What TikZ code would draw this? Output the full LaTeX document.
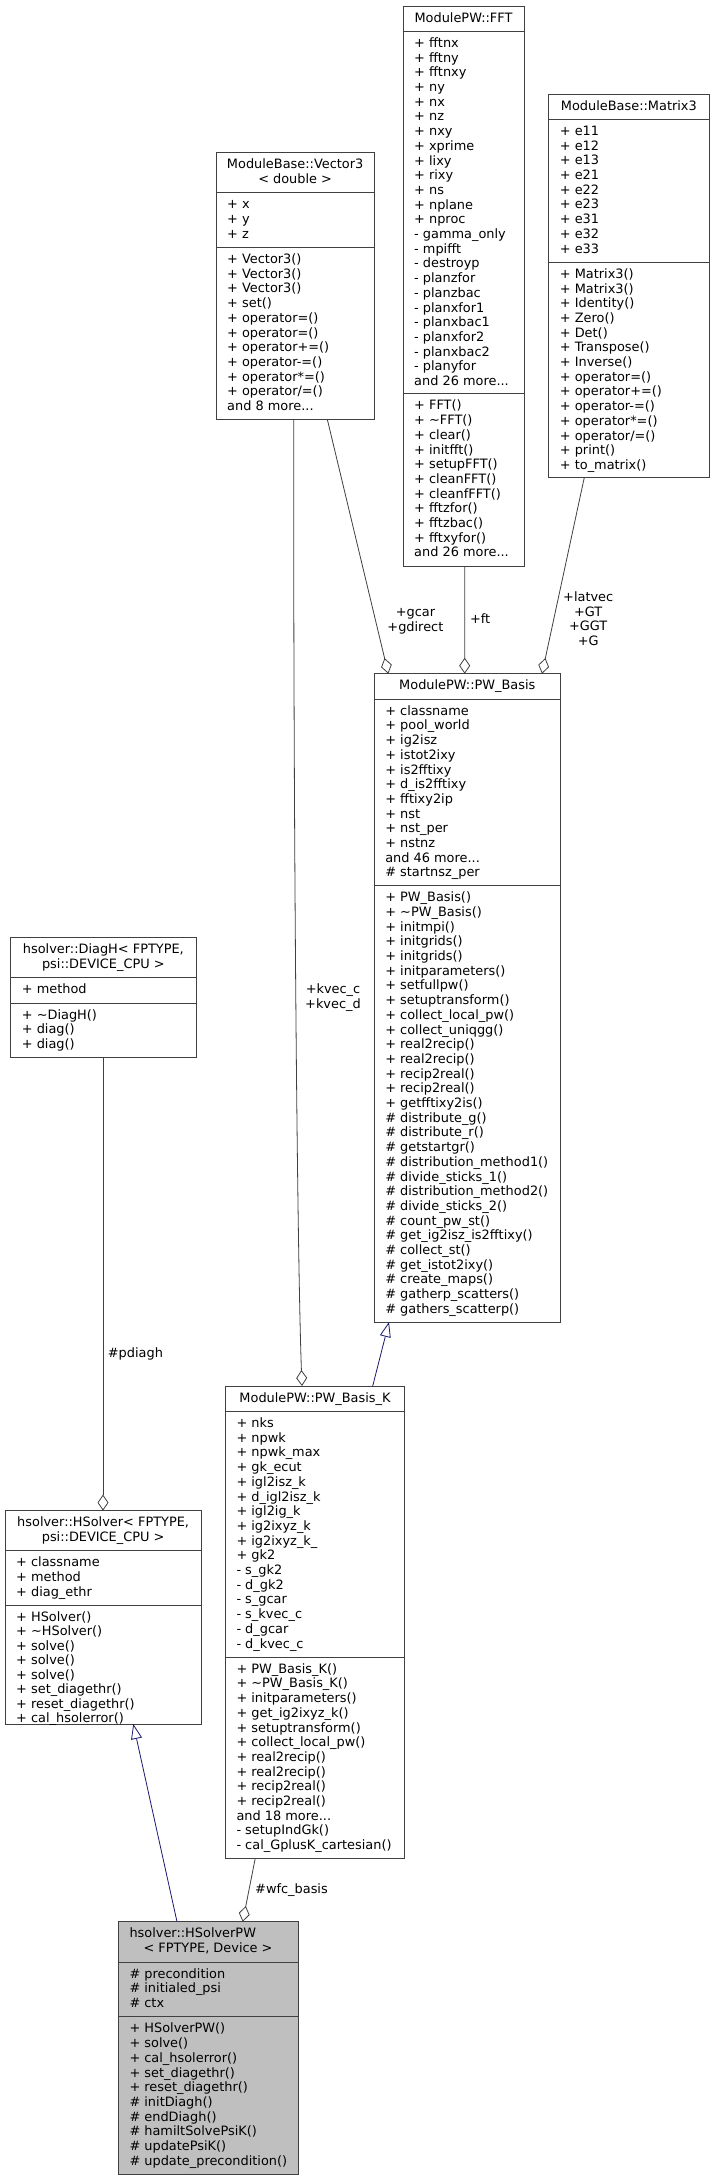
\documentclass[tikz,border=0pt]{standalone}
\usepackage{fontspec}
\setmainfont{DejaVu Sans}
\usetikzlibrary{arrows.meta,fit}
\definecolor{edgegray}{HTML}{404040}
\definecolor{navyedge}{HTML}{191970}
\definecolor{hlfill}{HTML}{BFBFBF}
\newcommand\dfont{\fontsize{12.9}{14.7}\selectfont}
\newcommand\tightfont{\fontsize{12.9}{14.5}\selectfont}
\tikzset{
  clsbox/.style={draw=edgegray, line width=0.9pt, inner sep=0pt, outer sep=0pt},
  sepline/.style={draw=edgegray, line width=0.9pt},
  seclbl/.style={font=\dfont, align=left, inner sep=0pt, anchor=north west, text=black},
  hdrlbl/.style={font=\dfont, align=center, inner sep=0pt, anchor=north, text=black},
  edgelbl/.style={font=\dfont, align=center, inner sep=0pt, anchor=north, text=black},
  agg/.style={draw=edgegray, line width=0.8pt, -{Diamond[open, length=16pt, width=11pt, line width=0.8pt]}},
  inh/.style={draw=navyedge, line width=0.8pt, -{Triangle[open, length=15pt, width=11pt, line width=0.8pt]}}
}
% name, x1, y0, x2, y1, y2, y3, fill
\newcommand\umlbox[8]{%
  \node[clsbox, fill=#8, fit={(#2,#3) (#4,#7)}] (#1) {};
  \draw[sepline] (#2,#5) -- (#4,#5);
  \draw[sepline] (#2,#6) -- (#4,#6);
}
% name, x1, section top, text
\newcommand\seclines[4]{%
  \node[seclbl] (#1) at (#2+11,#3+5.7) {\strut #4};
}
% name, x1, x2, y0, text
\newcommand\hdrlines[5]{%
  \node[hdrlbl] (#1) at ({(#2+#3)/2},#4+5.7) {\strut #5};
}
\begin{document}
\begin{tikzpicture}[x=1pt, y=-1pt]
\useasboundingbox (0,0) rectangle (714,2180);
\fill[white] (0,0) rectangle (714,2180);

% ---------- ModulePW::FFT
\umlbox{fft}{403}{6}{524}{31.3}{393.7}{566}{white}
\hdrlines{fft-h}{403}{524}{6}{ModulePW::FFT}
\seclines{fft-a}{403}{31.3}{+ fftnx\\+ fftny\\+ fftnxy\\+ ny\\+ nx\\+ nz\\+ nxy\\+ xprime\\+ lixy\\+ rixy\\+ ns\\+ nplane\\+ nproc\\- gamma\_only\\- mpifft\\- destroyp\\- planzfor\\- planzbac\\- planxfor1\\- planxbac1\\- planxfor2\\- planxbac2\\- planyfor\\and 26 more...}
\seclines{fft-m}{403}{393.7}{+ FFT()\\+ \textasciitilde FFT()\\+ clear()\\+ initfft()\\+ setupFFT()\\+ cleanFFT()\\+ cleanfFFT()\\+ fftzfor()\\+ fftzbac()\\+ fftxyfor()\\and 26 more...}

% ---------- ModuleBase::Vector3
\umlbox{v3}{216}{152.7}{374.3}{192.7}{247.4}{419.7}{white}
\hdrlines{v3-h}{216}{374.3}{152.7}{ModuleBase::Vector3\\< double >}
\seclines{v3-a}{216}{192.7}{+ x\\+ y\\+ z}
\seclines{v3-m}{216}{247.4}{+ Vector3()\\+ Vector3()\\+ Vector3()\\+ set()\\+ operator=()\\+ operator=()\\+ operator+=()\\+ operator-=()\\+ operator*=()\\+ operator/=()\\and 8 more...}

% ---------- ModuleBase::Matrix3
\umlbox{m3}{548.7}{94}{709}{119.3}{262.2}{477.5}{white}
\hdrlines{m3-h}{548.7}{709}{94}{ModuleBase::Matrix3}
\seclines{m3-a}{548.7}{119.3}{+ e11\\+ e12\\+ e13\\+ e21\\+ e22\\+ e23\\+ e31\\+ e32\\+ e33}
\seclines{m3-m}{548.7}{262.2}{+ Matrix3()\\+ Matrix3()\\+ Identity()\\+ Zero()\\+ Det()\\+ Transpose()\\+ Inverse()\\+ operator=()\\+ operator+=()\\+ operator-=()\\+ operator*=()\\+ operator/=()\\+ print()\\+ to\_matrix()}

% ---------- ModulePW::PW_Basis
\umlbox{pwb}{374.1}{673.7}{560.5}{699}{885.5}{1322}{white}
\hdrlines{pwb-h}{374.1}{560.5}{673.7}{ModulePW::PW\_Basis}
\seclines{pwb-a}{374.1}{699}{+ classname\\+ pool\_world\\+ ig2isz\\+ istot2ixy\\+ is2fftixy\\+ d\_is2fftixy\\+ fftixy2ip\\+ nst\\+ nst\_per\\+ nstnz\\and 46 more...\\\# startnsz\_per}
\seclines{pwb-m}{374.1}{885.5}{+ PW\_Basis()\\+ \textasciitilde PW\_Basis()\\+ initmpi()\\+ initgrids()\\+ initgrids()\\+ initparameters()\\+ setfullpw()\\+ setuptransform()\\+ collect\_local\_pw()\\+ collect\_uniqgg()\\+ real2recip()\\+ real2recip()\\+ recip2real()\\+ recip2real()\\+ getfftixy2is()\\\# distribute\_g()\\\# distribute\_r()\\\# getstartgr()\\\# distribution\_method1()\\\# divide\_sticks\_1()\\\# distribution\_method2()\\\# divide\_sticks\_2()\\\# count\_pw\_st()\\\# get\_ig2isz\_is2fftixy()\\\# collect\_st()\\\# get\_istot2ixy()\\\# create\_maps()\\\# gatherp\_scatters()\\\# gathers\_scatterp()}

% ---------- ModulePW::PW_Basis_K
\umlbox{pwbk}{225.3}{1386}{404.7}{1411.3}{1657}{1858}{white}
\hdrlines{pwbk-h}{225.3}{404.7}{1386}{ModulePW::PW\_Basis\_K}
\seclines{pwbk-a}{225.3}{1411.3}{+ nks\\+ npwk\\+ npwk\_max\\+ gk\_ecut\\+ igl2isz\_k\\+ d\_igl2isz\_k\\+ igl2ig\_k\\+ ig2ixyz\_k\\+ ig2ixyz\_k\_\\+ gk2\\- s\_gk2\\- d\_gk2\\- s\_gcar\\- s\_kvec\_c\\- d\_gcar\\- d\_kvec\_c}
\seclines{pwbk-m}{225.3}{1657}{+ PW\_Basis\_K()\\+ \textasciitilde PW\_Basis\_K()\\+ initparameters()\\+ get\_ig2ixyz\_k()\\+ setuptransform()\\+ collect\_local\_pw()\\+ real2recip()\\+ real2recip()\\+ recip2real()\\+ recip2real()\\and 18 more...\\- setupIndGk()\\- cal\_GplusK\_cartesian()}

% ---------- hsolver::DiagH
\umlbox{diagh}{10.7}{937.7}{196}{977.7}{1003}{1057.7}{white}
\hdrlines{diagh-h}{10.7}{196}{937.7}{hsolver::DiagH< FPTYPE,\\psi::DEVICE\_CPU >}
\seclines{diagh-a}{10.7}{977.7}{+ method}
\seclines{diagh-m}{10.7}{1003}{+ \textasciitilde DiagH()\\+ diag()\\+ diag()}

% ---------- hsolver::HSolver
\umlbox{hs}{5}{1510.6}{201.3}{1550.7}{1605.3}{1724}{white}
\hdrlines{hs-h}{5}{201.3}{1510.6}{hsolver::HSolver< FPTYPE,\\psi::DEVICE\_CPU >}
\seclines{hs-a}{5}{1550.7}{+ classname\\+ method\\+ diag\_ethr}
\node[seclbl, font=\tightfont] (hs-m) at (16,1610.9) {\strut + HSolver()\\+ \textasciitilde HSolver()\\+ solve()\\+ solve()\\+ solve()\\+ set\_diagethr()\\+ reset\_diagethr()\\+ cal\_hsolerror()};

% ---------- hsolver::HSolverPW
\umlbox{hspw}{118.3}{1921.7}{298.7}{1962}{2016.7}{2174.3}{hlfill}
\node[seclbl] (hspw-h) at (129.3,1927.4) {\strut hsolver::HSolverPW\\\hspace*{14pt}< FPTYPE, Device >};
\seclines{hspw-a}{118.3}{1962}{\# precondition\\\# initialed\_psi\\\# ctx}
\seclines{hspw-m}{118.3}{2016.7}{+ HSolverPW()\\+ solve()\\+ cal\_hsolerror()\\+ set\_diagethr()\\+ reset\_diagethr()\\\# initDiagh()\\\# endDiagh()\\\# hamiltSolvePsiK()\\\# updatePsiK()\\\# update\_precondition()}

% ---------- connectors
\draw[agg] ([xshift=111.4pt]v3.south west) -- ([xshift=14.2pt]pwb.north west);
\draw[agg] ([xshift=77.7pt]v3.south west) .. controls (293.3,800) and (297,1250) .. ([xshift=76.7pt]pwbk.north west);
\draw[agg] ([xshift=61.7pt]fft.south west) -- ([xshift=90.6pt]pwb.north west);
\draw[agg] ([xshift=35.6pt]m3.south west) -- ([xshift=167.9pt]pwb.north west);
\draw[agg] ([xshift=92.3pt]diagh.south west) -- ([xshift=98pt]hs.north west);
\draw[agg] ([xshift=30pt]pwbk.south west) -- ([xshift=124.4pt]hspw.north west);
\draw[inh] ([xshift=147.4pt]pwbk.north west) -- ([xshift=14.9pt]pwb.south west);
\draw[inh] ([xshift=58.7pt]hspw.north west) -- ([xshift=128.3pt]hs.south west);

% ---------- connector labels
\node[edgelbl] (l-gcar) at (415.4,605.9) {\strut +gcar\\+gdirect};
\node[edgelbl] (l-kvec) at (333,983.2) {\strut +kvec\_c\\+kvec\_d};
\node[edgelbl] (l-ft) at (480.2,612.5) {\strut +ft};
\node[edgelbl] (l-latvec) at (588.2,590.9) {\strut +latvec\\+GT\\+GGT\\+G};
\node[seclbl] (l-pdiagh) at (107.7,1346.9) {\strut \#pdiagh};
\node[seclbl] (l-wfc) at (255,1882.5) {\strut \#wfc\_basis};
\end{tikzpicture}
\end{document}
